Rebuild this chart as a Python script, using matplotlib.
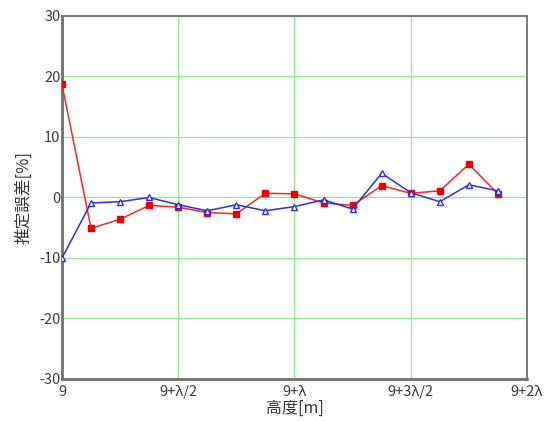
import numpy as np
import matplotlib
matplotlib.use("Agg")
import matplotlib.pyplot as plt

plt.rcParams['font.family'] = ['Noto Sans CJK JP', 'DejaVu Sans']
plt.rcParams['axes.unicode_minus'] = False

# heights sampled every λ/8 from 9 m
step = np.arange(16)
err_red = [18.7, -5.1, -3.6, -1.3, -1.6, -2.5, -2.7, 0.7, 0.6, -0.9,
           -1.3, 1.95, 0.7, 1.1, 5.5, 0.6]
err_blue = [-10.0, -0.9, -0.7, 0.0, -1.2, -2.2, -1.2, -2.2, -1.5, -0.4,
            -1.9, 4.0, 0.8, -0.7, 2.1, 1.1]

xticks = [0, 4, 8, 12, 16]
xticklabels = ["9", "9+λ/2", "9+λ", "9+3λ/2", "9+2λ"]
yticks = [-30, -20, -10, 0, 10, 20, 30]

fig = plt.figure(figsize=(5.51, 4.21), dpi=100)
ax = fig.add_axes([0.1125, 0.0998, 0.8439, 0.8622])

ax.plot(step, err_red, color="#f02828", lw=1.1, marker="s", ms=4.6,
        mfc="#ee0000", mec="#ee0000", zorder=3)
ax.plot(step, err_blue, color="#2f2fd8", lw=1.1, marker="^", ms=5.0,
        mfc="white", mec="#2f2fd8", mew=1.0, zorder=4)

ax.set_xlim(0, 16)
ax.set_ylim(-30, 30)
ax.set_xticks(xticks)
ax.set_xticklabels(xticklabels)
ax.set_yticks(yticks)
ax.grid(True, color="#8fe88f", lw=0.9)
ax.set_axisbelow(True)
ax.tick_params(length=0, labelsize=10.5, labelcolor="#3a3a3a", pad=1)
ax.tick_params(axis="x", pad=4)

for side in ["left", "bottom"]:
    ax.spines[side].set_color("#707070")
    ax.spines[side].set_linewidth(2.0)
for side in ["top", "right"]:
    ax.spines[side].set_color("#707070")
    ax.spines[side].set_linewidth(1.3)

ax.set_xlabel("高度[m]", fontsize=11.5, color="#333333", labelpad=1)
ax.set_ylabel("推定誤差[%]", fontsize=12, color="#333333", labelpad=5)

fig.savefig("out.png", dpi=100)
